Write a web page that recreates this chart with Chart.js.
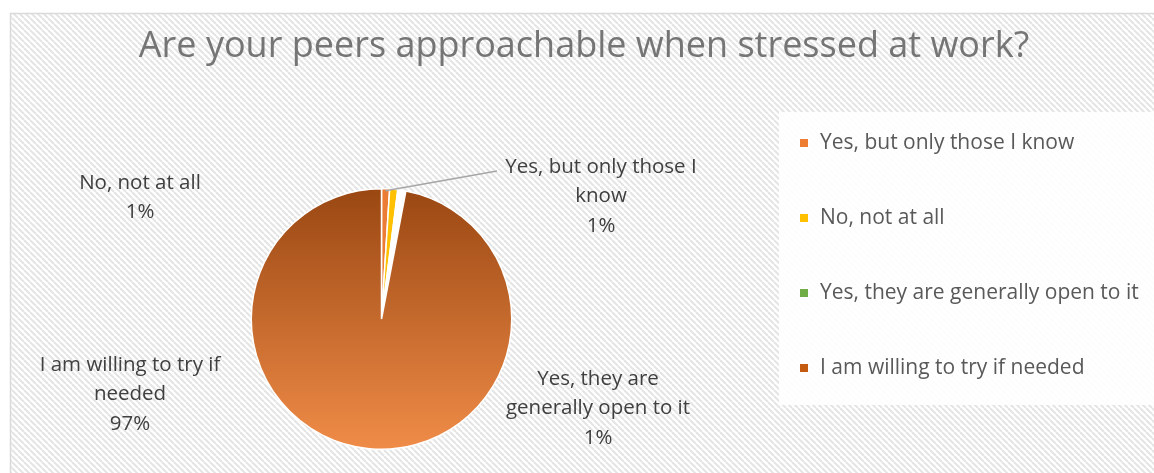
<!DOCTYPE html>
<html>
<head>
<meta charset="utf-8">
<script src="https://cdn.jsdelivr.net/npm/chart.js@4"></script>
<style>
html, body { margin: 0; padding: 0; background: #fff; }
</style>
</head>
<body>
<canvas id="peers-chart" width="1154" height="473"></canvas>
<script>
const chartTitle = 'Are your peers approachable when stressed at work?';
const categories = [
    'Yes, but only those I know',
    'No, not at all',
    'Yes, they are generally open to it',
    'I am willing to try if needed',
];
const percentages = [1, 1, 1, 97];
const legendColors = ['#ed7d31', '#ffc000', '#70ad47', '#c55a11'];
// category names as they wrap in the data labels
const labelLines = [
    ['Yes, but only those I', 'know'],
    ['No, not at all'],
    ['Yes, they are', 'generally open to it'],
    ['I am willing to try if', 'needed'],
];

const FONT = '"Open Sans", Lato, sans-serif';

// where each data label block sits (center x, first line y)
const labelAnchors = [
    { x: 601, y: 167 },
    { x: 140, y: 183 },
    { x: 598, y: 379 },
    { x: 130, y: 365 },
];

const makeHatch = () => {
    const tile = document.createElement('canvas');
    const s = 6;
    tile.width = s;
    tile.height = s;
    const t = tile.getContext('2d');
    t.fillStyle = '#ffffff';
    t.fillRect(0, 0, s, s);
    t.strokeStyle = '#e4e4e4';
    t.lineWidth = 2;
    [-s, 0, s].forEach((x) => {
        t.beginPath();
        t.moveTo(x, 0);
        t.lineTo(x + s, s);
        t.stroke();
    });
    return tile;
};

const backgroundPlugin = {
    id: 'hatchBackground',
    beforeDraw(chart) {
        const { ctx, width, height } = chart;
        ctx.save();
        ctx.fillStyle = '#ffffff';
        ctx.fillRect(0, 0, width, height);
        ctx.fillStyle = ctx.createPattern(makeHatch(), 'repeat');
        ctx.fillRect(11, 14, width - 11, height - 14);
        ctx.strokeStyle = '#d9d9d9';
        ctx.lineWidth = 1.5;
        ctx.strokeRect(10.5, 13.5, width, height);

        // legend panel
        ctx.fillStyle = 'rgba(255, 255, 255, 0.9)';
        ctx.fillRect(779, 112, width - 779, 293);

        ctx.fillStyle = '#757575';
        ctx.font = `36px ${FONT}`;
        ctx.textAlign = 'center';
        ctx.textBaseline = 'middle';
        ctx.fillText(chartTitle, 584, 47);
        ctx.restore();
    },
};

const annotationPlugin = {
    id: 'pieAnnotations',
    afterDatasetsDraw(chart) {
        const { ctx } = chart;
        const arcs = chart.getDatasetMeta(0).data;
        ctx.save();

        // leader line for the first slice
        const first = arcs[0];
        const mid = (first.startAngle + first.endAngle) / 2;
        ctx.strokeStyle = '#a6a6a6';
        ctx.lineWidth = 1.5;
        ctx.beginPath();
        ctx.moveTo(first.x + Math.cos(mid) * (first.outerRadius - 2), first.y + Math.sin(mid) * (first.outerRadius - 2));
        ctx.lineTo(497, 171);
        ctx.stroke();

        ctx.fillStyle = '#404040';
        ctx.font = `20.5px ${FONT}`;
        ctx.textAlign = 'center';
        ctx.textBaseline = 'middle';
        labelLines.forEach((lines, i) => {
            const rows = [...lines, `${percentages[i]}%`];
            rows.forEach((text, r) => {
                ctx.fillText(text, labelAnchors[i].x, labelAnchors[i].y + r * 29.5);
            });
        });

        // legend
        ctx.textAlign = 'left';
        ctx.font = `21px ${FONT}`;
        categories.forEach((name, i) => {
            const y = 142 + i * 75;
            ctx.fillStyle = legendColors[i];
            ctx.fillRect(800, y - 3, 8, 8);
            ctx.fillStyle = '#595959';
            ctx.fillText(name, 820, y + 1);
        });
        ctx.restore();
    },
};

const sliceFill = (context) => {
    const i = context.dataIndex;
    const area = context.chart.chartArea;
    if (!area) {
        return legendColors[i];
    }
    if (i === 3) {
        const g = context.chart.ctx.createLinearGradient(0, area.top, 0, area.bottom);
        g.addColorStop(0, '#9a4712');
        g.addColorStop(1, '#f08c48');
        return g;
    }
    if (i === 0) {
        return '#ea7c36';
    }
    if (i === 1) {
        return '#ffc000';
    }
    return '#ffffff';
};

new Chart(document.getElementById('peers-chart'), {
    type: 'pie',
    data: {
        labels: categories,
        datasets: [{
            data: percentages,
            backgroundColor: sliceFill,
            borderColor: '#ffffff',
            borderWidth: 1.5,
        }],
    },
    options: {
        responsive: false,
        animation: false,
        devicePixelRatio: 1,
        layout: {
            padding: { top: 188, bottom: 23, left: 250, right: 641 },
        },
        plugins: {
            legend: { display: false },
            tooltip: { enabled: false },
        },
    },
    plugins: [backgroundPlugin, annotationPlugin],
});
</script>
</body>
</html>
